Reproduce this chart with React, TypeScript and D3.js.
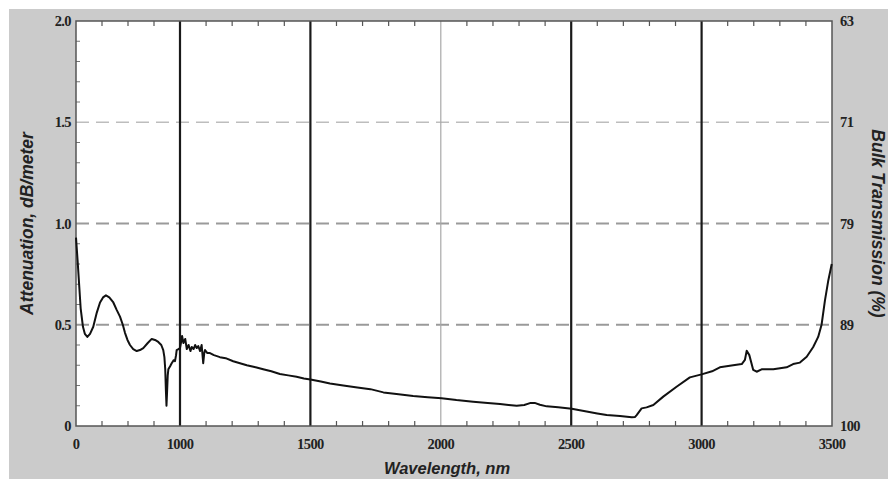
import React from "react";
import * as d3 from "d3";

const wavelength = [
  0, 15, 30, 45, 67, 85, 109, 135, 166, 200, 231, 260, 288, 320, 359, 390, 423, 450, 471, 495,
  519, 550, 584, 615, 647, 690, 728, 760, 791, 820, 839, 850, 858, 864, 870, 875, 882, 888, 905, 920,
  940, 952, 962, 968, 985, 1000, 1005, 1008, 1013, 1020, 1026, 1033, 1040, 1045, 1052, 1058, 1064, 1070, 1077, 1083,
  1089, 1093, 1096, 1105, 1115, 1130, 1153, 1175, 1204, 1230, 1256, 1290, 1319, 1350, 1383, 1415, 1447, 1475, 1500, 1540,
  1575, 1626, 1680, 1730, 1780, 1830, 1894, 1950, 2003, 2060, 2124, 2180, 2227, 2260, 2291, 2320, 2342, 2360, 2380, 2406,
  2450, 2502, 2559, 2600, 2636, 2687, 2732, 2745, 2751, 2770, 2789, 2815, 2853, 2904, 2955, 3000, 3040, 3070, 3121, 3154,
  3166, 3173, 3183, 3198, 3211, 3230, 3275, 3326, 3351, 3377, 3403, 3428, 3447, 3460, 3473, 3486, 3499,
];
const attenuation = [
  0.93, 0.82, 0.7, 0.58, 0.49, 0.455, 0.44, 0.455, 0.49, 0.56, 0.61, 0.635, 0.645, 0.635, 0.61, 0.575, 0.54, 0.5, 0.46, 0.425,
  0.4, 0.38, 0.37, 0.375, 0.385, 0.41, 0.43, 0.425, 0.415, 0.4, 0.375, 0.34, 0.28, 0.18, 0.1, 0.16, 0.25, 0.28, 0.295, 0.31,
  0.325, 0.32, 0.35, 0.375, 0.38, 0.385, 0.42, 0.445, 0.41, 0.43, 0.38, 0.4, 0.37, 0.39, 0.38, 0.4, 0.385, 0.395, 0.37, 0.4,
  0.31, 0.36, 0.375, 0.36, 0.36, 0.35, 0.34, 0.335, 0.32, 0.31, 0.3, 0.29, 0.28, 0.27, 0.257, 0.25, 0.243, 0.235, 0.23, 0.22,
  0.21, 0.2, 0.19, 0.182, 0.166, 0.158, 0.148, 0.142, 0.137, 0.128, 0.12, 0.114, 0.109, 0.104, 0.1, 0.104, 0.113, 0.114, 0.105, 0.097,
  0.092, 0.085, 0.072, 0.062, 0.054, 0.049, 0.043, 0.045, 0.054, 0.087, 0.092, 0.104, 0.145, 0.194, 0.24, 0.255, 0.27, 0.29, 0.3, 0.306,
  0.326, 0.372, 0.35, 0.277, 0.268, 0.28, 0.28, 0.29, 0.306, 0.313, 0.342, 0.39, 0.44, 0.5, 0.62, 0.72, 0.8,
];

const xTickValues = [0, 1000, 1500, 2000, 2500, 3000, 3500];
const xTickLabels = ["0", "1000", "1500", "2000", "2500", "3000", "3500"];
const xMinorTicks = [250, 500, 750, ...d3.range(1100, 3500, 100).filter((v) => v % 500 !== 0)];
const yTickValues = [0, 0.5, 1.0, 1.5, 2.0];
const yTickLabels = ["0", "0.5", "1.0", "1.5", "2.0"];
const yMinorTicks = d3.range(0.1, 2.0, 0.1).filter((v) => Math.abs(v * 2 - Math.round(v * 2)) > 0.01);
const rightTickLabels = ["100", "89", "79", "71", "63"];
const boldVerticals = [1000, 1500, 2500, 3000];
const thinVerticals = [2000];
const dashedLevels = [0.5, 1.0, 1.5];

export default function App() {
  const W = 888, H = 479;
  const L = 76, R = 832, T = 21, B = 426;
  const x = d3.scaleLinear().domain([0, 1000, 3500]).range([L, 180, R]);
  const y = d3.scaleLinear().domain([0, 2]).range([B, T]);
  const pts = wavelength.map((w, i) => [w, attenuation[i]] as [number, number]);
  const line = d3.line<[number, number]>().x((d) => x(d[0])).y((d) => y(d[1]));
  const serif = "'Liberation Serif', 'Times New Roman', serif";
  const sans = "'Liberation Sans', Arial, sans-serif";

  return (
    <svg width={W} height={H} style={{ position: "absolute", left: 0, top: 0 }}>
      <rect x={0} y={0} width={W} height={H} fill="#ffffff" />
      <rect x={9} y={9} width={W - 9} height={H - 9} fill="#cbcbcb" />
      <rect x={L} y={T} width={R - L} height={B - T} fill="#ffffff" />

      {dashedLevels.map((v) => (
        <line key={"h" + v} x1={L} x2={R} y1={y(v)} y2={y(v)}
          stroke={v === 1.5 ? "#bdbdbd" : "#9a9a9a"} strokeWidth={v === 1.5 ? 1.5 : 2}
          strokeDasharray="13 7" />
      ))}
      {thinVerticals.map((v) => (
        <line key={"tv" + v} x1={x(v)} x2={x(v)} y1={T} y2={B} stroke="#a8a8a8" strokeWidth={1.2} />
      ))}
      {boldVerticals.map((v) => (
        <line key={"bv" + v} x1={x(v)} x2={x(v)} y1={T} y2={B} stroke="#1a1a1a" strokeWidth={2.2} />
      ))}

      {xMinorTicks.map((v) => (
        <g key={"xm" + v}>
          <line x1={x(v)} x2={x(v)} y1={B} y2={B - 5} stroke="#555" strokeWidth={1.2} />
          <line x1={x(v)} x2={x(v)} y1={T} y2={T + 5} stroke="#555" strokeWidth={1.2} />
        </g>
      ))}
      {yMinorTicks.map((v) => (
        <line key={"ym" + v} x1={L} x2={L + 4} y1={y(v)} y2={y(v)} stroke="#777" strokeWidth={1} />
      ))}

      <rect x={L} y={T} width={R - L} height={B - T} fill="none" stroke="#555" strokeWidth={1.5} />

      <path d={line(pts) || ""} fill="none" stroke="#111" strokeWidth={2} strokeLinejoin="round" />

      {xTickValues.map((v, i) => (
        <text key={"xl" + v} x={x(v)} y={449} textAnchor="middle" fontFamily={serif}
          fontWeight="bold" fontSize={14.5} fill="#222" letterSpacing={-0.6}>{xTickLabels[i]}</text>
      ))}
      {yTickValues.map((v, i) => (
        <text key={"yl" + v} x={71} y={y(v) + 5} textAnchor="end" fontFamily={serif}
          fontWeight="bold" fontSize={14.5} fill="#222" letterSpacing={-0.6}>{yTickLabels[i]}</text>
      ))}
      {yTickValues.map((v, i) => (
        <text key={"rl" + v} x={840} y={y(v) + 5} textAnchor="start" fontFamily={serif}
          fontWeight="bold" fontSize={14.5} fill="#222" letterSpacing={-0.6}>{rightTickLabels[i]}</text>
      ))}

      <text x={447} y={474} textAnchor="middle" fontFamily={sans} fontWeight="bold"
        fontStyle="italic" fontSize={16.5} fill="#222">Wavelength, nm</text>
      <text transform={`translate(33,${(T + B) / 2}) rotate(-90)`} textAnchor="middle" fontFamily={sans}
        fontWeight="bold" fontStyle="italic" fontSize={17.5} fill="#222">Attenuation, dB/meter</text>
      <text transform={`translate(872,${(T + B) / 2}) rotate(90)`} textAnchor="middle" fontFamily={sans}
        fontWeight="bold" fontStyle="italic" fontSize={17.5} fill="#222">Bulk Transmission (%)</text>
    </svg>
  );
}
